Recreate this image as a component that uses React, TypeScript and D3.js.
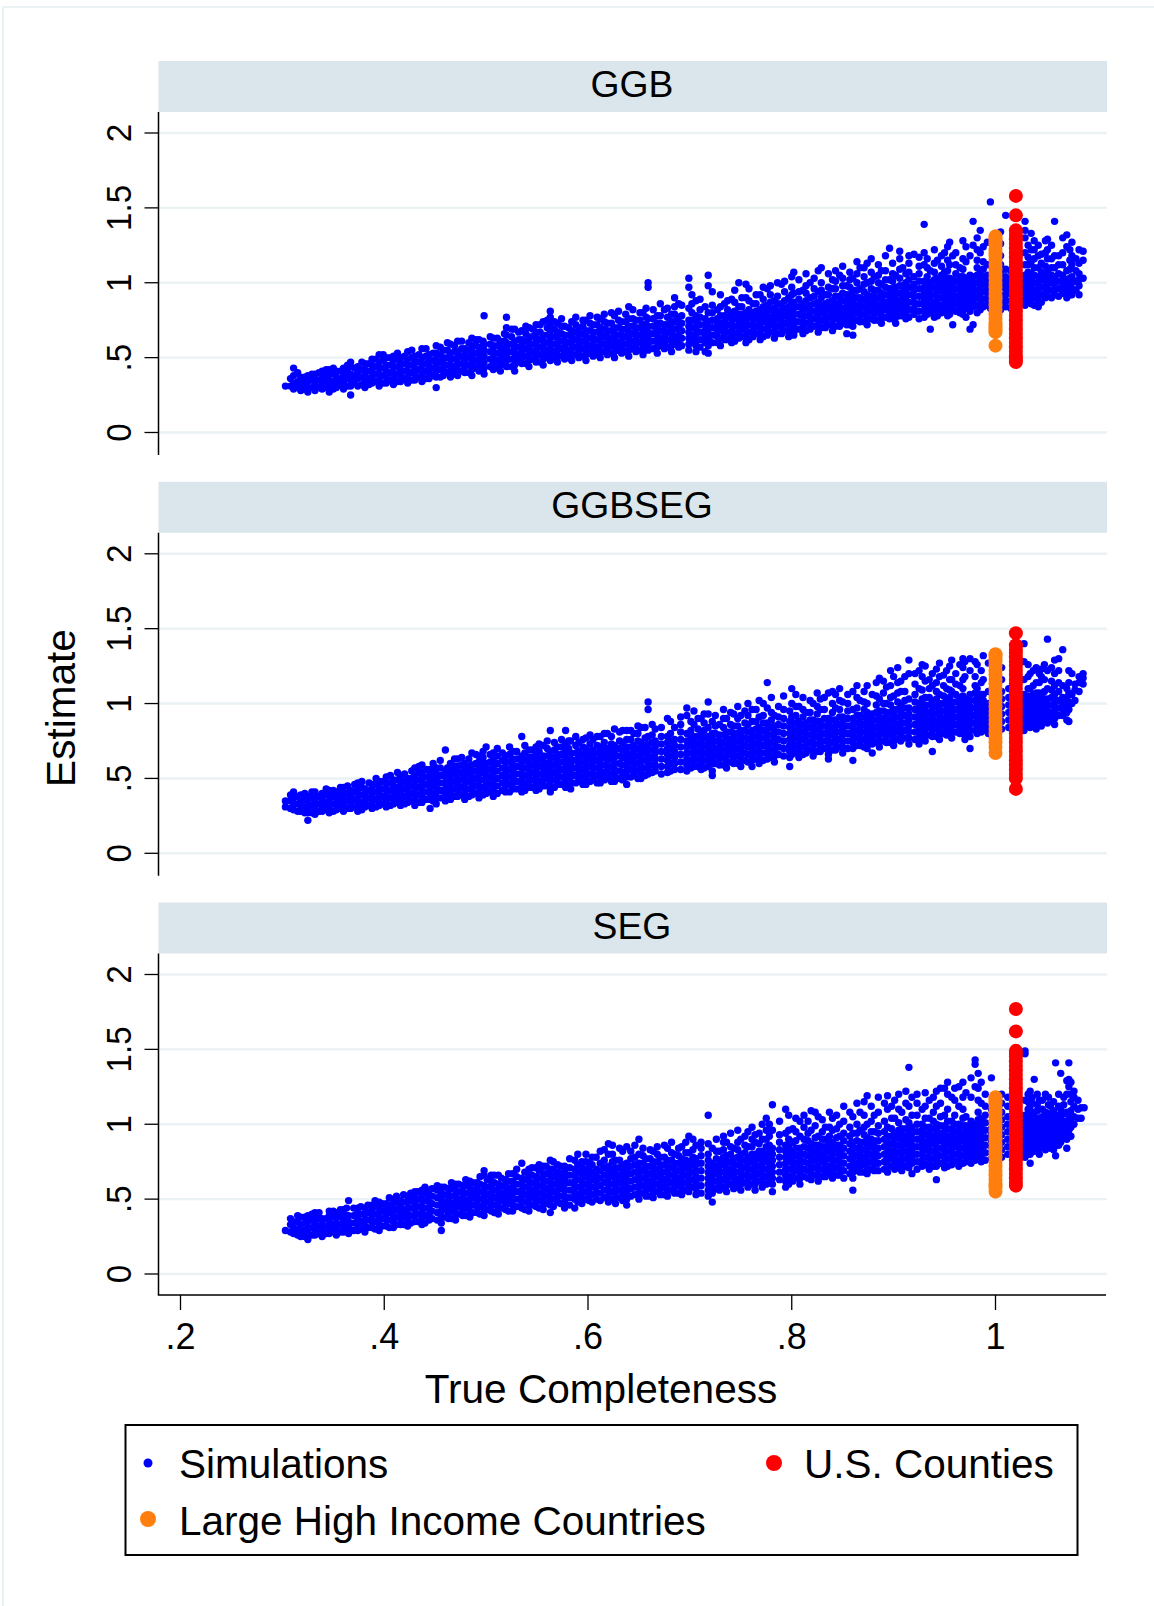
import React from "react";
import * as d3 from "d3";

// x in thousandths, y values in hundredths
const ggbSim: [number, number[]][] = [
  [303,[31]],[311,[29,33,38,43]],[318,[28,31,35,37]],[325,[27,30,34,38]],[332,[28,32,36,39]],[339,[29,33,37,41]],
  [346,[27,31,35,39,42]],[353,[30,33,37,41]],[360,[29,34,38,43]],[367,[25,31,35,39,44,47]],[374,[31,36,40,44]],
  [381,[30,34,38,42,46]],[388,[33,37,41,45,49]],[395,[31,35,39,43,47,52]],[402,[33,37,41,45,50]],[409,[32,36,40,44,48,51]],
  [416,[34,38,42,46,50]],[423,[33,37,41,45,49,54]],[430,[35,39,43,47,51]],[437,[34,38,42,46,50,56]],[444,[36,40,44,48,52]],
  [451,[30,37,41,45,49,53,58]],[458,[38,42,46,50,55]],[465,[37,41,45,49,53,59]],[472,[38,42,46,50,54,61]],[479,[40,44,48,52,56]],
  [486,[38,42,46,50,54,58,63]],[493,[41,45,49,53,57,62]],[498,[39,43,47,51,55,59,78]],[507,[42,46,50,54,58,63]],[514,[41,45,49,53,57,61]],
  [520,[44,48,52,56,60,65,70,77]],[528,[41,45,49,53,57,61,69]],[535,[46,50,54,58,62,68]],[542,[44,48,52,56,60,64,70]],[549,[47,51,55,59,63,67,72]],
  [556,[45,49,53,57,61,65,74]],[563,[48,52,56,60,64,68,72,77,81]],[570,[47,51,55,59,63,67,73]],[577,[49,53,57,61,65,71]],[584,[48,52,56,60,64,68,74]],
  [591,[50,54,58,62,66,70]],[598,[48,52,56,60,64,68,75]],[605,[51,55,59,63,67,72]],[612,[50,54,58,62,66,70,76]],[619,[52,56,60,64,68,73]],
  [626,[50,54,58,62,66,70,78]],[633,[53,57,61,65,69,74]],[640,[51,55,59,63,67,71,76,84]],[647,[54,58,62,66,70,75]],[654,[52,56,60,64,68,72,80]],
  [659,[55,59,63,67,71,76,97,100]],[668,[53,57,61,65,69,73,78]],[675,[56,60,64,68,72,82]],[682,[54,58,62,66,70,74,79]],[689,[57,61,65,69,73,77,86]],
  [699,[55,59,63,67,71,75,83,97,103]],[706,[54,58,62,66,70,74,78,88]],[715,[54,60,64,68,72,76,84]],[718,[53,58,62,66,70,74,80,98,105]],[727,[60,64,68,72,76,82]],
  [734,[62,66,70,74,78,86]],[741,[60,64,68,72,76,80,89]],[748,[63,67,71,75,79,84,100]],[755,[60,64,68,72,76,80,90,99]],[762,[64,68,72,76,80,86]],
  [769,[62,66,70,74,78,82,92]],[776,[65,69,73,77,81,85,96]],[783,[63,67,71,75,79,83,88]],[790,[66,70,74,78,82,86,99]],[797,[64,68,72,76,80,84,90]],
  [802,[65,67,71,75,79,83,87,93,107]],[811,[66,70,74,78,82,86,95]],[818,[69,73,77,81,85,90,100]],[826,[67,71,75,79,83,87,94,108]],[833,[70,74,78,82,86,92]],
  [840,[68,72,76,80,84,88,96,102]],[847,[71,75,79,83,87,91,105]],[854,[66,72,76,80,84,88,92,98]],[860,[65,71,75,79,83,87,91,95,103]],[867,[74,78,82,86,90,96,110]],
  [874,[72,76,80,84,88,92,100,113]],[881,[75,79,83,87,91,95,104]],[888,[73,77,81,85,89,93,99,108]],[896,[76,80,84,88,92,96,102,123]],[902,[73,77,81,85,89,93,97,105]],
  [909,[78,82,86,90,94,98,110]],[912,[76,80,84,88,92,96,100,106]],[920,[79,83,87,91,95,99,104,119]],[930,[77,81,85,89,93,97,101,112,120,139]],[936,[69,80,84,88,92,96,100,108]],
  [943,[78,82,86,90,94,98,103,115]],[950,[81,85,89,93,97,101,107,120]],[955,[79,83,87,91,95,99,103,112,127]],[958,[72,82,86,90,94,98,102,118]],[965,[80,84,88,92,96,100,104,110]],
  [971,[77,83,87,91,95,99,103,114,124]],[975,[69,81,85,89,93,97,101,105,118]],[978,[72,84,88,92,96,100,104,141,125]],[985,[82,86,90,94,98,102,108,120,135]],[992,[85,89,93,97,101,105,112,127]],
  [995,[83,87,91,95,99,103,154]],[1001,[86,90,94,98,102,106,115,122]],[1010,[84,88,92,96,100,104,109,145]],[1029,[85,89,93,97,101,105,112,120,130,141,135]],[1035,[86,90,94,98,102,106,114,122,133]],
  [1042,[84,88,92,96,100,104,110,118,125]],[1049,[90,93,97,101,105,111,120,128]],[1051,[91,95,99,103,107,116,122,129]],[1058,[92,96,100,104,110,118,141]],[1066,[93,97,101,105,112,120,130]],
  [1070,[90,94,98,102,108,124,132]],[1075,[92,96,100,104,112,118,127]],[1082,[92,98,102,106,113,122]],[1086,[103,115,121]],
];
const ggbSimExtra: [number, number[]][] = [
  [308,[31,36]],[315,[30,34,40]],[322,[29,33,37]],[329,[30,35,39]],[336,[30,35,40]],[343,[30,34,38,42]],[350,[29,34,39,43]],[357,[32,36,41]],[364,[31,36,41,45]],
  [371,[33,38,43]],[378,[32,37,42,47]],[385,[32,36,41,46]],[392,[34,39,44,49]],[399,[33,38,43,48,52]],[406,[35,40,45,50]],[413,[34,39,44,49,53]],[420,[36,41,46,51]],
  [427,[35,40,45,50,55]],[434,[37,42,47,52]],[441,[36,41,46,51,56]],[448,[38,43,48,53]],[455,[37,42,47,52,57]],[462,[40,45,50,55,60]],[469,[39,44,49,54,58]],
  [476,[41,46,51,56,61]],[483,[40,45,50,55,60]],[490,[43,48,53,58,62]],[497,[41,46,51,56,61]],[504,[44,49,54,59,64]],[511,[43,48,53,58,63]],[518,[46,51,56,61,66]],
  [525,[44,49,54,59,64,69]],[532,[47,52,57,62,67]],[539,[46,51,56,61,66,71]],[546,[49,54,59,64,69]],[553,[47,52,57,62,67,72]],[560,[50,55,60,65,70,75]],
  [567,[49,54,59,64,69,74]],[574,[51,56,61,66,71,76]],[581,[50,55,60,65,70]],[588,[52,57,62,67,72,77]],[595,[51,56,61,66,71,75]],[602,[53,58,63,68,73,78]],
  [609,[52,57,62,67,72,77]],[616,[54,59,64,69,74,79]],[623,[53,58,63,68,73,80]],[630,[55,60,65,70,75,81]],[637,[54,59,64,69,74,79]],[644,[56,61,66,71,76,82]],
  [651,[55,60,65,70,75,80]],[657,[57,62,67,72,77,83]],[664,[56,61,66,71,76,82]],[671,[58,63,68,73,78,86]],[678,[57,62,67,72,77,83]],[685,[59,64,69,74,79,84,90]],
  [692,[58,63,68,73,78,85]],[702,[60,65,70,75,80,86,92]],[710,[57,62,67,72,77,82,89]],[722,[60,65,70,75,80,85,94]],[730,[58,63,68,73,78,84,92]],[737,[62,67,72,77,82,88]],
  [744,[61,66,71,76,81,87,95]],[751,[64,69,74,79,84,90]],[758,[62,67,72,77,82,88,96]],[765,[66,71,76,81,86,92]],[772,[64,69,74,79,84,89,97]],[779,[67,72,77,82,87,92,98]],
  [786,[66,71,76,81,86,91,100]],[793,[68,73,78,83,88,94,101]],[800,[67,72,77,82,87,92,97,104]],[807,[69,74,79,84,89,94,102]],[814,[68,73,78,83,88,93,98,106]],
  [822,[71,76,81,86,91,96,103]],[829,[70,75,80,85,90,95,100,110]],[836,[72,77,82,87,92,97,106]],[843,[71,76,81,86,91,96,101,108]],[850,[73,78,83,88,93,98,103,111]],
  [857,[72,77,82,87,92,97,102,107]],[864,[75,80,85,90,95,100,106,114]],[871,[74,79,84,89,94,99,104,110]],[878,[76,81,86,91,96,101,107,116]],[885,[75,80,85,90,95,100,105,112]],
  [892,[77,82,87,92,97,102,108,118]],[899,[76,81,86,91,96,101,106,113]],[906,[78,83,88,93,98,103,109,116,121]],[915,[77,82,87,92,97,102,107,113,118]],[925,[76,81,86,91,96,101,106,111,117]],
  [933,[79,84,89,94,99,104,110,116]],[940,[77,82,87,92,97,102,107,113,122]],[947,[80,85,90,95,100,105,111,118]],[953,[78,83,88,93,98,103,108,115,124]],[961,[81,86,91,96,101,106,112,120]],
  [968,[79,84,89,94,99,104,109,116,128]],[982,[80,85,90,95,100,105,110,115,122,130]],[988,[84,89,94,99,104,109,114,124]],[1005,[82,87,92,97,102,107,112,118,126,134]],[1015,[83,88,93,98,103,108]],
  [1032,[87,92,97,102,107,112,117,125]],[1038,[85,90,95,100,105,110,116,122,128]],[1045,[87,92,97,102,107,113,119]],[1055,[90,95,100,105,110,116,125]],[1062,[91,96,101,106,112,118]],
  [1073,[92,97,103,109,115,122]],[1079,[95,101,108,116]],
];
const ggbsegSim: [number, number[]][] = [
  [303,[31,35]],[311,[29,33,37,41]],[318,[28,32,36,39]],[325,[22,27,30,34,38]],[332,[26,30,34,38,41]],[339,[28,32,36,40]],
  [346,[27,31,35,39,42]],[353,[29,33,37,41]],[360,[28,32,36,40,44]],[367,[30,34,38,42]],[374,[28,32,36,40,44,47]],
  [381,[31,35,39,43]],[388,[30,34,38,42,46]],[395,[32,36,40,44,48]],[402,[31,35,39,43,47,51]],[409,[33,37,41,45,49]],
  [416,[32,36,40,44,48,52]],[423,[34,38,42,46,50]],[430,[32,36,40,44,48,52,57]],[437,[34,38,42,46,50,54,59]],[445,[30,36,40,44,48,52,56]],
  [451,[33,37,41,45,49,53,57]],[460,[35,39,43,47,51,55,69]],[465,[36,40,44,48,52,56,60]],[472,[38,42,46,50,54,58,63]],[479,[36,40,44,48,52,56,60]],
  [486,[39,43,47,51,55,59,67]],[493,[37,41,45,49,53,57,61,65]],[500,[40,44,48,52,56,60,71]],[507,[38,42,46,50,54,58,62,67]],[519,[47,41,45,49,53,57,61,65]],
  [526,[43,47,51,55,59,63,68]],[535,[41,45,49,53,57,61,65,78]],[542,[44,48,52,56,60,64,69]],[549,[42,46,50,54,58,62,66,71]],[556,[45,49,53,57,61,65,72]],
  [563,[41,44,48,52,56,60,64,68,82]],[570,[46,50,54,58,62,66,71]],[578,[44,48,52,56,60,64,68,73,82]],[583,[43,47,51,55,59,63,67,75]],[591,[48,52,56,60,64,68,74]],
  [598,[46,50,54,58,62,66,70,77]],[605,[49,53,57,61,65,69,76]],[612,[47,51,55,59,63,67,71,78]],[619,[50,54,58,62,66,70,80]],[626,[48,52,56,60,64,68,72,83]],
  [638,[46,51,55,59,63,67,71,76,82]],[645,[52,56,60,64,68,72,80]],[652,[50,54,58,62,66,70,74,84]],[659,[53,57,61,65,69,73,78,96,101]],[666,[55,59,63,67,71,75,83]],
  [678,[54,58,62,66,70,74,78,90]],[685,[56,60,64,68,72,76,84]],[697,[55,59,63,67,71,75,80,92,97]],[704,[58,62,66,70,74,78,86,95]],[711,[56,60,64,68,72,76,80,90]],
  [718,[58,62,66,70,74,78,84,93,101]],[722,[52,55,60,64,68,72,76,80,88]],[729,[59,63,67,71,75,79,86]],[736,[57,61,65,69,73,77,81,90]],[743,[60,64,68,72,76,80,85,93]],
  [750,[58,62,66,70,74,78,82,92]],[761,[58,62,66,70,74,78,82,88,96]],[768,[60,64,68,72,76,80,84,91,102]],[776,[63,67,71,75,79,83,87,97,114]],[783,[61,65,69,73,77,81,85,92]],
  [798,[58,64,68,72,76,80,84,88,95]],[800,[66,70,74,78,82,86,91,100,110]],[807,[64,68,72,76,80,84,88,98]],[814,[67,71,75,79,83,87,94]],[821,[65,69,73,77,81,85,89,100]],
  [828,[68,72,76,80,84,88,96,103]],[836,[63,66,70,74,78,82,86,90,107]],[843,[69,73,77,81,85,89,97,106]],[850,[67,71,75,79,83,87,91,101]],[860,[62,70,74,78,82,86,90,96,108]],
  [867,[72,76,80,84,88,92,102]],[874,[70,74,78,82,86,90,94,100,112]],[879,[67,73,77,81,85,89,93,106]],[886,[71,75,79,83,87,91,95,103,117]],[893,[74,78,82,86,90,94,100,111]],
  [900,[72,76,80,84,88,92,96,105,118]],[907,[75,79,83,87,91,95,99,108,115]],[915,[73,77,81,85,89,93,97,103,120,129]],[925,[73,76,80,84,88,92,96,100,110,122]],[931,[75,79,83,87,91,95,99,104,115,125]],
  [938,[68,78,82,86,90,94,98,102,112,120]],[945,[76,80,84,88,92,96,100,106,118,127]],[952,[79,83,87,91,95,99,103,110,122]],[957,[77,81,85,89,93,97,101,108,116,129]],[965,[80,84,88,92,96,100,104,112,126]],
  [970,[76,79,83,87,91,95,99,103,118,128]],[975,[70,78,82,86,90,94,98,102,106,122,130]],[982,[80,84,88,92,96,100,104,110,126]],[988,[82,86,90,94,98,102,106,116,132]],[993,[80,84,88,92,96,100,108,127]],
  [1028,[82,86,90,94,98,102,106,116,128,140]],[1034,[84,88,92,96,100,104,110,120]],[1040,[83,87,91,95,99,103,107,114,124]],[1045,[85,89,93,97,101,105,118,123]],[1051,[87,91,95,99,103,110,122,143]],
  [1058,[86,90,94,98,102,106,112,120,129]],[1066,[92,96,100,104,112,136]],[1070,[89,94,99,104,110]],[1075,[100,106,120]],
  [1078,[102,109,113]],[1082,[108,114,118]],[1086,[113,117,120]],
];
const ggbsegSimExtra: [number, number[]][] = [
  [308,[30,35,39]],[315,[28,33,38]],[322,[27,31,36,40]],[329,[27,32,37,41]],[336,[28,33,38]],[343,[29,34,39,43]],[350,[28,33,38,42]],[357,[30,35,40,44]],[364,[30,35,40,45]],
  [371,[31,36,41,46]],[378,[29,34,39,44,48]],[385,[32,37,42,47]],[392,[31,36,41,46,50]],[399,[33,38,43,48]],[406,[32,37,42,47,52]],[413,[34,39,44,49,54]],[420,[33,38,43,48,53]],
  [427,[35,40,45,50,55]],[434,[34,39,44,49,54,58]],[441,[36,41,46,51,56]],[448,[35,40,45,50,55,60]],[455,[37,42,47,52,57,62]],[462,[37,42,47,52,57]],[469,[38,43,48,53,58,63]],
  [476,[39,44,49,54,59,64]],[483,[38,43,48,53,58,63]],[490,[40,45,50,55,60,66]],[497,[39,44,49,54,59,64,68]],[504,[41,46,51,56,61,66]],[511,[40,45,50,55,60,65,70]],[516,[42,47,52,57,62,67]],
  [523,[41,46,51,56,61,66,71]],[530,[43,48,53,58,63,68]],[538,[42,47,52,57,62,67,72]],[545,[44,49,54,59,64,69]],[552,[43,48,53,58,63,68,73]],[560,[45,50,55,60,65,70,75]],[567,[44,49,54,59,64,69,74]],
  [574,[46,51,56,61,66,71,76]],[581,[45,50,55,60,65,70,75]],[588,[47,52,57,62,67,72,78]],[595,[46,51,56,61,66,71,76]],[602,[48,53,58,63,68,73,79]],[609,[47,52,57,62,67,72,78]],[616,[49,54,59,64,69,74,80]],
  [623,[48,53,58,63,68,73,78]],[631,[50,55,60,65,70,75,81]],[634,[49,54,59,64,69,74,82]],[642,[51,56,61,66,71,76,82]],[649,[50,55,60,65,70,75,80,85]],[656,[52,57,62,67,72,77,84]],[663,[54,59,64,69,74,79,86]],
  [672,[53,58,63,68,73,78,84]],[681,[55,60,65,70,75,80,88]],[691,[56,61,66,71,76,81,86,91]],[701,[57,62,67,72,77,82,88]],[708,[58,63,68,73,78,83,90]],[714,[57,62,67,72,77,82,87,93]],
  [725,[60,65,70,75,80,85,92]],[733,[59,64,69,74,79,84,90,96]],[740,[61,66,71,76,81,86,94]],[747,[60,65,70,75,80,85,90,98]],[754,[62,67,72,77,82,87,95]],[757,[61,66,71,76,81,86,92,100]],
  [765,[63,68,73,78,83,88,96]],[772,[62,67,72,77,82,87,92,100]],[780,[64,69,74,79,84,89,94,104]],[787,[66,71,76,81,86,91,98]],[792,[65,70,75,80,85,90,96,105]],[804,[67,72,77,82,87,92,98,106]],
  [811,[66,71,76,81,86,91,96,104]],[818,[69,74,79,84,89,94,102]],[825,[68,73,78,83,88,93,98,107]],[832,[70,75,80,85,90,96,104]],[840,[69,74,79,84,89,94,100,108]],[847,[71,76,81,86,91,96,102,110]],
  [855,[70,75,80,85,90,95,100,106]],[864,[72,77,82,87,92,97,104,112]],[871,[71,76,81,86,91,96,101,108]],[883,[74,79,84,89,94,99,105,114]],[890,[75,80,85,90,95,100,107,115]],[897,[74,79,84,89,94,99,104,112,122]],
  [904,[76,81,86,91,96,101,107,114,124]],[911,[77,82,87,92,97,102,108,118]],[921,[76,81,86,91,96,101,106,113,120]],[928,[78,83,88,93,98,103,109,118,126]],[935,[79,84,89,94,99,104,110,116]],
  [942,[78,83,88,93,98,103,108,114,123]],[949,[80,85,90,95,100,105,112,119]],[955,[79,84,89,94,99,104,109,116,125]],[961,[81,86,91,96,101,106,113,120]],[968,[80,85,90,95,100,105,110,116,124,130]],
  [980,[82,87,92,97,102,107,112,118,128]],[986,[81,86,91,96,101,106,114,122]],[1006,[83,88,93,98,103,108,116,124]],[1013,[84,89,94,99,104,110]],[1032,[85,90,95,100,105,110,118,126]],
  [1037,[86,91,96,101,106,112,122]],[1043,[87,92,97,102,107,114,120]],[1048,[88,93,98,103,108,116,126]],[1055,[89,94,99,104,109,115,124]],[1062,[92,97,102,108,114,122,130]],[1072,[88,96,101,107,114,122]],
];
const segSim: [number, number[]][] = [
  [303,[29]],[311,[27,31,35]],[318,[25,29,33,38]],[325,[23,27,31,35,39]],[332,[26,30,34,38,41]],[339,[25,29,33,37]],
  [346,[27,31,35,39,42]],[353,[26,30,34,38,41]],[360,[28,32,36,40,43]],[365,[27,31,35,39,49]],[374,[29,33,37,41,44]],
  [381,[28,32,36,40,44]],[388,[31,35,39,43,46]],[395,[29,33,37,41,45,48]],[402,[32,36,40,44,47]],[409,[31,35,39,43,47,50]],
  [416,[33,37,41,45,49]],[423,[32,36,40,44,48,52]],[430,[35,39,43,47,51,55]],[437,[33,37,41,45,49,53,56]],[444,[36,40,44,48,52,56]],
  [456,[29,34,38,42,46,50,54,58]],[463,[37,41,45,49,53,57]],[470,[36,40,44,48,52,56,60]],[477,[39,43,47,51,55,59]],[484,[38,42,46,50,54,58,62]],
  [491,[41,45,49,53,57,61]],[498,[39,43,47,51,55,59,66,69]],[505,[42,46,50,54,58,62,66]],[512,[40,44,48,52,56,60,66]],[519,[43,47,51,55,59,63]],
  [526,[42,46,50,54,58,62,67]],[535,[44,48,52,56,60,64,74]],[542,[42,46,50,54,58,62,66,70]],[549,[45,49,53,57,61,65,71]],[556,[43,47,51,55,59,63,67,72]],
  [563,[41,46,50,54,58,62,66,70,76]],[570,[48,52,56,60,64,68,73]],[577,[44,48,52,56,60,64,68,72]],[587,[44,50,54,58,62,66,70,76]],[594,[47,51,55,59,63,67,71,75]],
  [601,[49,53,57,61,65,69,74]],[608,[50,54,58,62,66,70,78]],[620,[48,52,56,60,64,68,72,80,87]],[627,[47,51,55,59,63,67,71,76]],[634,[49,53,57,61,65,69,73,82]],
  [638,[46,50,54,58,62,66,70,74,85]],[650,[50,54,58,62,66,70,74,80,90]],[657,[52,56,60,64,68,72,77]],[664,[51,55,59,63,67,71,75,82]],[671,[53,57,61,65,69,73,78]],
  [678,[52,56,60,64,68,72,76,84]],[685,[54,58,62,66,70,74,80]],[692,[53,57,61,65,69,73,77,85]],[699,[55,59,63,67,71,75,81,92]],[706,[53,57,61,65,69,73,77,86]],
  [718,[52,56,60,64,68,72,76,80,87,106]],[722,[48,54,58,62,66,70,74,84]],[729,[56,60,64,68,72,76,82]],[736,[55,59,63,67,71,75,79,88]],[743,[57,61,65,69,73,77,84]],
  [750,[56,60,64,68,72,76,80,90]],[757,[58,62,66,70,74,78,85,95]],[764,[56,60,64,68,72,76,80,88,93]],[771,[58,62,66,70,74,78,82,90,100]],[781,[55,60,64,68,72,76,80,84,96,113]],
  [794,[58,62,66,70,74,78,82,86,94,110]],[801,[62,66,70,74,78,82,88,97]],[808,[60,64,68,72,76,80,84,92,102]],[819,[63,67,71,75,79,83,87,96,109]],[826,[62,66,70,74,78,82,86,92,105]],
  [833,[65,69,73,77,81,85,90,98]],[840,[64,68,72,76,80,84,88,96,104]],[847,[66,70,74,78,82,86,92,100]],[860,[56,64,68,72,76,80,84,88,94,105]],[867,[68,72,76,80,84,88,96,108]],
  [874,[67,71,75,79,83,87,91,100,119]],[881,[69,73,77,81,85,89,95,106]],[894,[68,72,76,80,84,88,92,98,110,119]],[901,[70,74,78,82,86,90,94,104,116]],[908,[69,73,77,81,85,89,93,97,108]],
  [915,[71,75,79,83,87,91,95,101,112,138]],[918,[67,74,78,82,86,90,94,98,106,118]],[928,[72,76,80,84,88,92,96,100,110]],[935,[70,74,78,82,86,90,94,98,104,116]],[942,[63,72,76,80,84,88,92,96,100,112,122]],
  [950,[71,75,79,83,87,91,95,99,106,124]],[957,[73,77,81,85,89,93,97,102,118]],[964,[72,76,80,84,88,92,96,100,112,125]],[971,[75,79,83,87,91,95,99,105,121]],[976,[74,78,82,86,90,94,98,102,118,131]],
  [980,[76,80,84,88,92,96,100,125,140,143]],[986,[75,79,83,87,91,95,99,104,114,128]],[996,[77,81,85,89,93,97,101,110,131]],[1029,[78,82,86,90,94,98,102,106,116,149,147]],[1034,[74,80,84,88,92,96,100,104,112,122]],
  [1038,[82,86,90,94,98,102,108,130]],[1043,[80,84,88,92,96,100,104,116]],[1049,[83,87,91,95,99,103,108,120]],[1054,[84,88,92,96,100,104,112]],[1059,[79,86,90,94,98,102,106,141]],
  [1064,[88,92,96,100,104,110,134]],[1070,[84,90,94,98,102,108,120,129]],[1072,[92,96,101,106,125,141,130]],[1077,[100,105,112,118,122]],[1081,[104,110,116]],[1084,[104,111]],[1087,[111]],
];
const segSimExtra: [number, number[]][] = [
  [308,[28,33,37]],[315,[26,30,35,39]],[322,[25,29,34,38]],[329,[26,31,36,40]],[336,[27,32,37,41]],[343,[27,32,37]],[350,[28,33,38,42]],[357,[28,33,38,43]],[363,[29,34,39,44]],
  [370,[29,34,39,44]],[377,[30,35,40,45]],[384,[31,36,41,46]],[391,[30,35,40,45,49]],[398,[32,37,42,47]],[405,[31,36,41,46,51]],[412,[33,38,43,48,52]],[419,[33,38,43,48,53]],
  [426,[34,39,44,49,54]],[433,[35,40,45,50,55]],[440,[34,39,44,49,54,58]],[447,[37,42,47,52,57]],[452,[36,41,46,51,56,59]],[459,[38,43,48,53,58]],[466,[37,42,47,52,57,61]],
  [473,[40,45,50,55,60]],[480,[39,44,49,54,59,63]],[487,[41,46,51,56,61]],[494,[40,45,50,55,60,65]],[501,[43,48,53,58,63]],[508,[41,46,51,56,61,66]],[515,[44,49,54,59,64]],
  [522,[42,47,52,57,62,67]],[530,[45,50,55,60,65,70]],[538,[43,48,53,58,63,68]],[545,[46,51,56,61,66,71]],[552,[44,49,54,59,64,69,73]],[559,[47,52,57,62,67,72]],[566,[45,50,55,60,65,70,75]],
  [573,[47,52,57,62,67,72]],[582,[46,51,56,61,66,71,77]],[590,[48,53,58,63,68,73,80]],[598,[50,55,60,65,70,75,80]],[604,[48,53,58,63,68,73,78]],[612,[49,54,59,64,69,74,82]],[616,[51,56,61,66,71,76,83]],
  [624,[50,55,60,65,70,75,80,86]],[631,[51,56,61,66,71,76,84]],[642,[52,57,62,67,72,77,82]],[646,[53,58,63,68,73,78,86]],[654,[54,59,64,69,74,79,84]],[661,[52,57,62,67,72,77,83]],[668,[55,60,65,70,75,80,85]],
  [675,[53,58,63,68,73,78,86]],[682,[56,61,66,71,76,81,88]],[689,[54,59,64,69,74,79,84]],[696,[56,61,66,71,76,81,88]],[703,[58,63,68,73,78,83,90]],[711,[54,59,64,69,74,79,84,88]],[726,[57,62,67,72,77,82,90]],
  [733,[58,63,68,73,78,83,88,92]],[740,[60,65,70,75,80,85,94]],[747,[58,63,68,73,78,83,88,96]],[754,[61,66,71,76,81,86,92]],[761,[60,65,70,75,80,85,90,98]],[768,[62,67,72,77,82,87,94]],[775,[60,65,70,75,80,85,90,96,104]],
  [778,[61,66,71,76,81,86,92,100]],[788,[63,68,73,78,83,88,93,102]],[797,[60,65,70,75,80,85,90,96,106]],[804,[64,69,74,79,84,89,95,104]],[812,[65,70,75,80,85,90,98,106]],[816,[64,69,74,79,84,89,94,102]],[823,[66,71,76,81,86,91,99,108]],
  [830,[65,70,75,80,85,90,95,103]],[837,[67,72,77,82,87,92,98,108]],[844,[66,71,76,81,86,91,97,106]],[851,[64,69,74,79,84,89,94,102,112]],[857,[67,72,77,82,87,92,98,108]],[864,[69,74,79,84,89,94,100,114]],
  [871,[68,73,78,83,88,93,98,106,115]],[878,[70,75,80,85,90,95,102,112]],[885,[69,74,79,84,89,94,99,108,118]],[891,[70,75,80,85,90,95,102,114]],[898,[72,77,82,87,92,97,104,112]],[905,[71,76,81,86,91,96,101,110,120]],
  [912,[72,77,82,87,92,97,103,114,122]],[923,[70,75,80,85,90,95,100,106,114,120]],[931,[73,78,83,88,93,98,104,112,121]],[939,[72,77,82,87,92,97,102,108,118]],[946,[74,79,84,89,94,99,105,114,124]],[953,[72,77,82,87,92,97,102,110,120,128]],
  [960,[75,80,85,90,95,100,106,116,124]],[968,[74,79,84,89,94,99,104,110,118,128]],[983,[78,83,88,93,98,103,108,116,124,134]],[990,[76,81,86,91,96,101,106,112,120]],[1006,[78,83,88,93,98,103,108,114,120]],[1012,[80,85,90,95,100,105,112,118]],
  [1032,[80,85,90,95,100,105,110,115,120]],[1036,[82,87,92,97,102,107,114,118]],[1041,[84,89,94,99,104,109,113,120]],[1046,[85,90,95,100,105,110,116]],[1052,[87,92,97,102,107,113,118]],[1057,[83,88,93,98,103,109,115]],
  [1062,[86,91,96,101,106,112,120]],[1067,[92,97,102,107,113,118]],[1074,[92,98,103,109,115,120,128]],
];

const ggbOrange = [58,67,69,71,73,76,79,82,85,88,91,94,97,100,103,106,109,112,115,118,120,122,125,127,129,131];
const ggbsegOrange = [67,71,74,77,80,83,86,89,92,95,98,101,104,107,110,113,116,119,122,125,128,130,132,133];
const segOrange = [55,58,60,63,66,69,72,75,78,81,84,87,90,93,96,99,102,105,108,111,114,116,118];
const ggbRed = [47,49,51,54,57,60,63,66,69,72,75,78,81,84,87,90,93,96,99,102,105,108,111,114,117,120,123,126,129,132,135,145,158];
const ggbsegRed = [43,50,53,56,59,62,65,68,71,74,77,80,83,86,89,92,95,98,101,104,107,110,113,116,119,122,125,128,131,134,136,139,147];
const segRed = [59,61,64,67,70,73,76,79,82,85,88,91,94,97,100,103,106,109,112,115,118,121,124,127,130,133,136,139,142,145,147,149,162,177];

const panelNames = ["GGB", "GGBSEG", "SEG"];
const simSeries = [ggbSim, ggbsegSim, segSim];
const simExtraSeries = [ggbSimExtra, ggbsegSimExtra, segSimExtra];
const orangeSeries = [ggbOrange, ggbsegOrange, segOrange];
const redSeries = [ggbRed, ggbsegRed, segRed];

const xTicks = [0.2, 0.4, 0.6, 0.8, 1];
const xTickLabels = [".2", ".4", ".6", ".8", "1"];
const yTicks = [0, 0.5, 1, 1.5, 2];
const yTickLabels = ["0", ".5", "1", "1.5", "2"];
const legendNames = ["Simulations", "U.S. Counties", "Large High Income Countries"];

const BLUE = "#0000ff";
const ORANGE = "#ff7f0e";
const RED = "#ff0000";
const GRID = "#eaf2f3";
const STRIP = "#dae6eb";
const FONT = "'Liberation Sans', Arial, sans-serif";

const x = d3.scaleLinear().domain([0.2, 1]).range([180.5, 995.5]);
const panelOffset = [0, 420.8, 841.5];
const left = 158.5;
const right = 1107;

function Panel({ index }: { index: number }) {
  const dy = panelOffset[index];
  const y = d3.scaleLinear().domain([0, 2]).range([432.5 + dy, 133 + dy]);
  const bottom = index === 2 ? 1295 : 455 + dy;
  const sim = [...simSeries[index], ...simExtraSeries[index]].flatMap(([cx, ys]) => ys.map(v => [cx / 1000, v / 100]));
  return (
    <g>
      <rect x={left} y={61 + dy} width={right - left} height={51} fill={STRIP} />
      <text x={632} y={97 + dy} textAnchor="middle" fontSize={37.3} fill="#000">{panelNames[index]}</text>
      {yTicks.map(t => (
        <line key={t} x1={left} x2={right} y1={y(t)} y2={y(t)} stroke={GRID} strokeWidth={2.4} />
      ))}
      <line x1={left} x2={left} y1={112 + dy} y2={bottom} stroke="#000" strokeWidth={1.5} />
      {yTicks.map((t, i) => (
        <g key={t}>
          <line x1={144.5} x2={left} y1={y(t)} y2={y(t)} stroke="#000" strokeWidth={1.3} />
          <text transform={`translate(131,${y(t)}) rotate(-90) scale(0.92,1)`} textAnchor="middle" fontSize={36} fill="#000">{yTickLabels[i]}</text>
        </g>
      ))}
      {sim.map(([a, b], i) => (
        <circle key={i} cx={x(a)} cy={y(b)} r={3.7} fill={BLUE} />
      ))}
      {orangeSeries[index].map((v, i) => (
        <circle key={i} cx={x(1)} cy={y(v / 100)} r={7} fill={ORANGE} />
      ))}
      {redSeries[index].map((v, i) => (
        <circle key={i} cx={x(1.02)} cy={y(v / 100)} r={7} fill={RED} />
      ))}
    </g>
  );
}

export default function App() {
  return (
    <svg width={1154} height={1606} fontFamily={FONT} style={{ position: "absolute", left: 0, top: 0, background: "#fff" }}>
      <rect x={3} y={7} width={1200} height={1700} fill="#fff" stroke={GRID} strokeWidth={2} />
      {panelNames.map((_, i) => <Panel key={i} index={i} />)}
      <line x1={left - 0.7} x2={1106} y1={1295} y2={1295} stroke="#000" strokeWidth={1.5} />
      {xTicks.map((t, i) => (
        <g key={t}>
          <line x1={x(t)} x2={x(t)} y1={1295} y2={1310} stroke="#000" strokeWidth={1.3} />
          <text x={x(t)} y={1349} textAnchor="middle" fontSize={36} fill="#000">{xTickLabels[i]}</text>
        </g>
      ))}
      <text x={601} y={1403} textAnchor="middle" fontSize={40.6} fill="#000">True Completeness</text>
      <text transform="translate(75,708) rotate(-90)" textAnchor="middle" fontSize={40.6} fill="#000">Estimate</text>
      <rect x={125.5} y={1425} width={952} height={130} fill="#fff" stroke="#000" strokeWidth={2} />
      <circle cx={148} cy={1463} r={4.5} fill={BLUE} />
      <circle cx={774} cy={1463} r={8} fill={RED} />
      <circle cx={148} cy={1519} r={8} fill={ORANGE} />
      <text x={179} y={1478} fontSize={40.5} fill="#000">{legendNames[0]}</text>
      <text x={804} y={1478} fontSize={40.5} fill="#000">{legendNames[1]}</text>
      <text x={179} y={1535} fontSize={40.5} fill="#000">{legendNames[2]}</text>
    </svg>
  );
}
